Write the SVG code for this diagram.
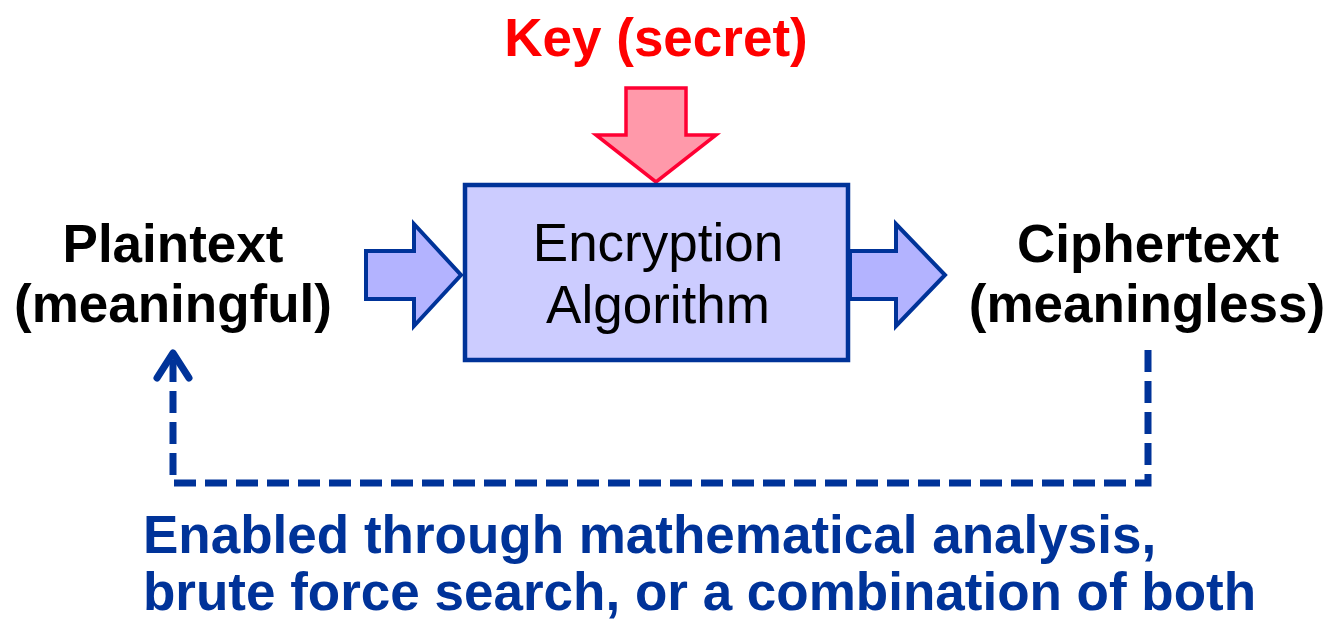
<svg xmlns="http://www.w3.org/2000/svg" width="1329" height="619" viewBox="0 0 1329 619">
  <style>
    .lbl { font-family: "Liberation Sans", Arial, sans-serif; font-size: 53px; }
    .b { font-weight: bold; }
    .blk { fill: #000000; }
    .blue { fill: #003399; }
    .flow { fill: #b3b3ff; stroke: #003399; stroke-width: 4; stroke-linejoin: miter; }
    .dash { fill: none; stroke: #003399; stroke-width: 7; stroke-dasharray: 22 9; }
  </style>
  <rect width="1329" height="619" fill="#ffffff"/>

  <g id="key">
    <text class="lbl b" x="656" y="56" text-anchor="middle" fill="#ff0000">Key (secret)</text>
    <polygon points="626,88 686,88 686,135 716,135 656,182 596,135 626,135" fill="#ff99aa" stroke="#ff0033" stroke-width="3.5"/>
  </g>

  <g id="plaintext">
    <text class="lbl b blk" x="173" y="262" text-anchor="middle">Plaintext</text>
    <text class="lbl b blk" x="173" y="322" text-anchor="middle">(meaningful)</text>
  </g>

  <g id="input-arrow">
    <polygon class="flow" points="366,251 414,251 414,224 461,275 414,326 414,299 366,299"/>
  </g>

  <g id="encryption">
    <rect x="465" y="185" width="383" height="175" fill="#ccccff" stroke="#003399" stroke-width="4.5"/>
    <text class="lbl blk" x="658" y="261" text-anchor="middle">Encryption</text>
    <text class="lbl blk" x="658" y="323" text-anchor="middle">Algorithm</text>
  </g>

  <g id="output-arrow">
    <polygon class="flow" points="850,251 896,251 896,224 945,275 896,326 896,299 850,299"/>
  </g>

  <g id="ciphertext">
    <text class="lbl b blk" x="1148" y="262" text-anchor="middle">Ciphertext</text>
    <text class="lbl b blk" x="1147" y="322" text-anchor="middle">(meaningless)</text>
  </g>

  <g id="connectors">
    <path class="dash" d="M1148,350 L1148,483 L173,483 L173,356"/>
    <polyline points="157,378 173,353 189,378" fill="none" stroke="#003399" stroke-width="7" stroke-linecap="round" stroke-linejoin="round"/>
  </g>

  <g id="caption">
    <text class="lbl b blue" x="143" y="553">Enabled through mathematical analysis,</text>
    <text class="lbl b blue" x="143" y="610">brute force search, or a combination of both</text>
  </g>
</svg>
